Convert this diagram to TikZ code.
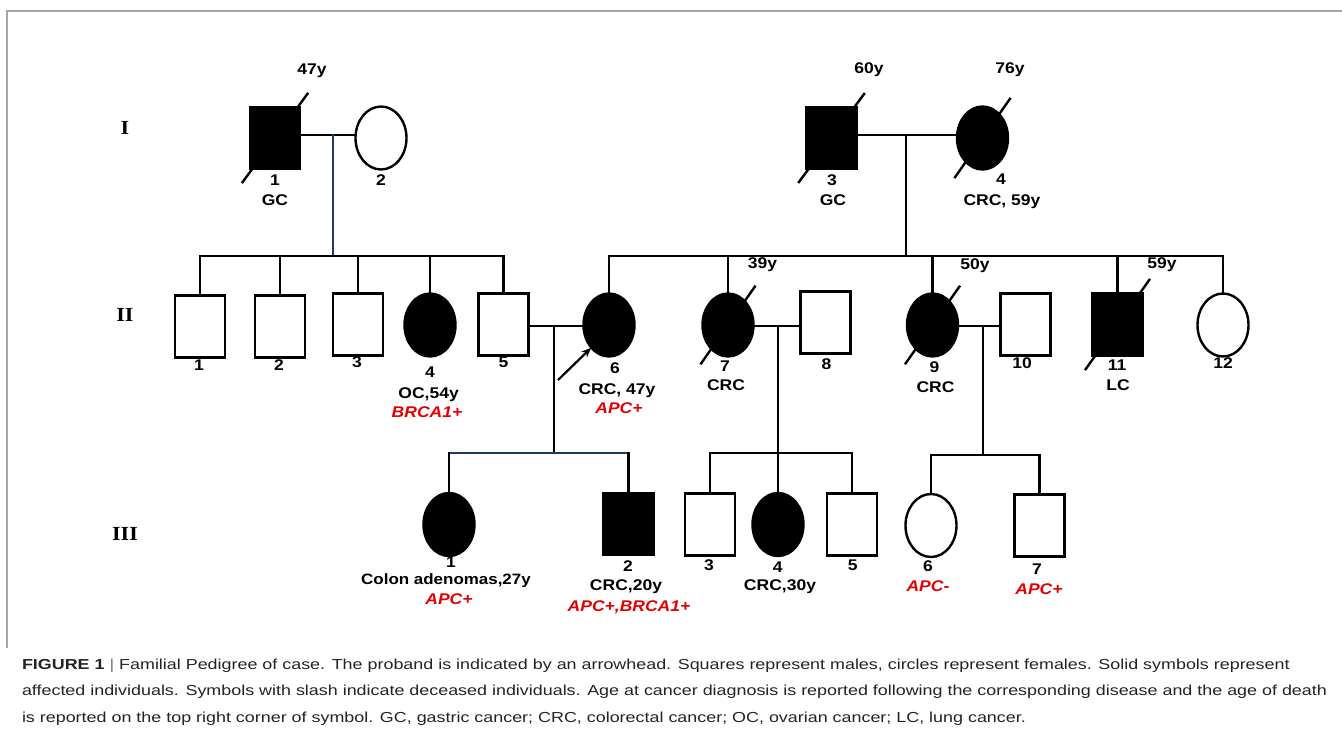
\documentclass[tikz,border=0pt]{standalone}
\usepackage{fontspec}
\setmainfont{Liberation Sans}
\newfontfamily\labfont[FakeStretch=1.13]{Liberation Sans}
\newfontfamily\capfont[FakeStretch=1.235]{Liberation Sans}
\newfontfamily\romfont[FakeStretch=1.1]{Liberation Serif}
\usetikzlibrary{shapes.geometric,arrows.meta,calc}

\definecolor{navy}{RGB}{31,56,100}
\definecolor{framegray}{RGB}{165,165,165}
\definecolor{genred}{RGB}{228,0,0}
\definecolor{captext}{RGB}{35,35,35}
\definecolor{capbar}{RGB}{120,120,120}

\tikzset{
 every node/.style={inner sep=0pt, outer sep=0pt},
 male/.style={rectangle, draw, line width=2.4pt, fill=white, minimum width=50pt, minimum height=62pt},
 female/.style={ellipse, draw, line width=2.4pt, fill=white, minimum width=51pt, minimum height=63pt},
 aff/.style={fill=black},
 link/.style={line width=2.4pt, line cap=rect},
 bluelink/.style={line width=2.4pt, line cap=rect, draw=navy},
 slashline/.style={line width=2.4pt},
 lab/.style={font=\labfont\bfseries\fontsize{15.5}{15.5}\selectfont, text height=11pt, text depth=0pt},
 gene/.style={font=\labfont\bfseries\itshape\fontsize{15.5}{15.5}\selectfont, text height=11pt, text depth=0pt, text=genred},
 gen/.style={font=\romfont\bfseries\fontsize{20}{20}\selectfont, text height=13.5pt, text depth=0pt},
 captxt/.style={font=\capfont\fontsize{14.5}{14.5}\selectfont, text=captext, anchor=base west},
}
\newcommand\deadslash[3]{\draw[slashline] ($(#1.center)+(#2+180:#3pt)$) -- ($(#1.center)+(#2:#3pt)$);}

\begin{document}
\begin{tikzpicture}[x=1pt,y=-1pt]
\useasboundingbox (0,0) rectangle (1342,731);
\draw[framegray, line width=1.5pt] (7,648) -- (7,11) -- (1342,11);

% generation labels
\node[gen] (gI) at (125,128) {I};
\node[gen] (gII) at (125,315) {II};
\node[gen] (gIII) at (125,534) {III};

% generation I
\node[male,aff] (I1) at (275,138) {};
\node[female] (I2) at (381,138) {};
\node[male,aff] (I3) at (831.5,138) {};
\node[female,aff] (I4) at (982.5,138) {};

% generation II
\node[male] (II1) at (200,326.5) {};
\node[male] (II2) at (280,326.5) {};
\node[male] (II3) at (358,324.5) {};
\node[female,aff] (II4) at (430,325) {};
\node[male] (II5) at (503.5,324.5) {};
\node[female,aff] (II6) at (609,325) {};
\node[female,aff] (II7) at (728,325) {};
\node[male] (II8) at (825.5,322.5) {};
\node[female,aff] (II9) at (932.5,325) {};
\node[male] (II10) at (1025.5,324.5) {};
\node[male,aff] (II11) at (1117.5,324.5) {};
\node[female] (II12) at (1223,325) {};

% generation III
\node[female,aff] (III1) at (449,524.5) {};
\node[male,aff] (III2) at (628.5,524) {};
\node[male] (III3) at (710,524.5) {};
\node[female,aff] (III4) at (778,524.5) {};
\node[male] (III5) at (852,524.5) {};
\node[female] (III6) at (931,525.5) {};
\node[male] (III7) at (1039.5,525.5) {};

% junction coordinates
\coordinate (m12) at (333,135);
\coordinate (s12) at (333,256);
\coordinate (m34) at (906,135);
\coordinate (s34) at (906,256);
\coordinate (m56) at (554,326);
\coordinate (s56) at (554,453);
\coordinate (m78) at (778,326);
\coordinate (s78) at (778,453);
\coordinate (m910) at (983,326);
\coordinate (s910) at (983,455);

% marriages
\draw[link] (I1.east |- m12) -- (I2.west |- m12);
\draw[link] (I3.east |- m34) -- (I4.west |- m34);
\draw[link] (II5.east |- m56) -- (II6.west |- m56);
\draw[link] (II7.east |- m78) -- (II8.west |- m78);
\draw[link] (II9.east |- m910) -- (II10.west |- m910);

% descents
\draw[bluelink] (m12) -- (s12);
\draw[link] (m34) -- (s34);
\draw[link] (m56) -- (s56);
\draw[link] (m78) -- (s78);
\draw[link] (m910) -- (s910);

% sibships
\draw[link] (II1.north |- s12) -- (II5.north |- s12);
\foreach \n in {II1,II2,II3,II4,II5} \draw[link] (\n.north) -- (\n.north |- s12);
\draw[link] (II6.north |- s34) -- (II12.north |- s34);
\foreach \n in {II6,II7,II9,II11,II12} \draw[link] (\n.north) -- (\n.north |- s34);
\draw[bluelink] (III1.north |- s56) -- (III2.north |- s56);
\foreach \n in {III1,III2} \draw[link] (\n.north) -- (\n.north |- s56);
\draw[link] (III3.north |- s78) -- (III5.north |- s78);
\foreach \n in {III3,III4,III5} \draw[link] (\n.north) -- (\n.north |- s78);
\draw[link] (III6.north |- s910) -- (III7.north |- s910);
\foreach \n in {III6,III7} \draw[link] (\n.north) -- (\n.north |- s910);

% deceased slashes
\deadslash{I1}{53.7}{56}
\deadslash{I3}{53.5}{56}
\deadslash{I4}{55}{49}
\deadslash{II7}{55}{48}
\deadslash{II9}{55}{48}
\deadslash{II11}{54.5}{56}

% proband arrow
\coordinate (prob) at (558,380);
\draw[line width=2.2pt, -{Stealth[length=10pt,width=8pt]}] (prob) -- (II6.232);

% labels generation I
\node[lab] (tI1a) at (312,69) {47y};
\node[lab] (tI1n) at (275,180) {1};
\node[lab] (tI1d) at (275,200) {GC};
\node[lab] (tI2n) at (381,180) {2};
\node[lab] (tI3a) at (869,68) {60y};
\node[lab] (tI3n) at (832,180) {3};
\node[lab] (tI3d) at (833,200) {GC};
\node[lab] (tI4a) at (1010,68) {76y};
\node[lab] (tI4n) at (1001,179) {4};
\node[lab] (tI4d) at (1002,200) {CRC, 59y};

% labels generation II
\node[lab] (tII1n) at (199,365) {1};
\node[lab] (tII2n) at (279,365) {2};
\node[lab] (tII3n) at (357,362) {3};
\node[lab] (tII4n) at (430,372) {4};
\node[lab] (tII4d) at (428.6,393) {OC,54y};
\node[gene] (tII4g) at (427,412) {BRCA1+};
\node[lab] (tII5n) at (503.6,362) {5};
\node[lab] (tII6n) at (615,368) {6};
\node[lab] (tII6d) at (617,389) {CRC, 47y};
\node[gene] (tII6g) at (619,408) {APC+};
\node[lab] (tII7a) at (762.5,263) {39y};
\node[lab] (tII7n) at (725,366) {7};
\node[lab] (tII7d) at (726,385) {CRC};
\node[lab] (tII8n) at (826.5,364) {8};
\node[lab] (tII9a) at (975,264) {50y};
\node[lab] (tII9n) at (934.6,367) {9};
\node[lab] (tII9d) at (935.5,387) {CRC};
\node[lab] (tII10n) at (1022,363) {10};
\node[lab] (tII11a) at (1162,263) {59y};
\node[lab] (tII11n) at (1117,365) {11};
\node[lab] (tII11d) at (1118,385) {LC};
\node[lab] (tII12n) at (1223,363) {12};

% labels generation III
\node[lab] (tIII1n) at (451,562) {1};
\node[lab, font=\labfont\bfseries\fontsize{15}{15}\selectfont] (tIII1d) at (446,579) {Colon adenomas,27y};
\node[gene] (tIII1g) at (449,599) {APC+};
\node[lab] (tIII2n) at (628,566) {2};
\node[lab] (tIII2d) at (626,585) {CRC,20y};
\node[gene] (tIII2g) at (629,606) {APC+,BRCA1+};
\node[lab] (tIII3n) at (709,565) {3};
\node[lab] (tIII4n) at (777.7,567) {4};
\node[lab] (tIII4d) at (780,585) {CRC,30y};
\node[lab] (tIII5n) at (852.7,565) {5};
\node[lab] (tIII6n) at (928,566) {6};
\node[gene] (tIII6g) at (928,586) {APC-};
\node[lab] (tIII7n) at (1037,569) {7};
\node[gene] (tIII7g) at (1039,589) {APC+};

% caption
\node[captxt] (cap1) at (22,669) {\textbf{FIGURE 1} {\color{capbar}|} Familial Pedigree of case. The proband is indicated by an arrowhead. Squares represent males, circles represent females. Solid symbols represent};
\node[captxt] (cap2) at (22,695.5) {affected individuals. Symbols with slash indicate deceased individuals. Age at cancer diagnosis is reported following the corresponding disease and the age of death};
\node[captxt] (cap3) at (22,722) {is reported on the top right corner of symbol. GC, gastric cancer; CRC, colorectal cancer; OC, ovarian cancer; LC, lung cancer.};
\end{tikzpicture}
\end{document}
